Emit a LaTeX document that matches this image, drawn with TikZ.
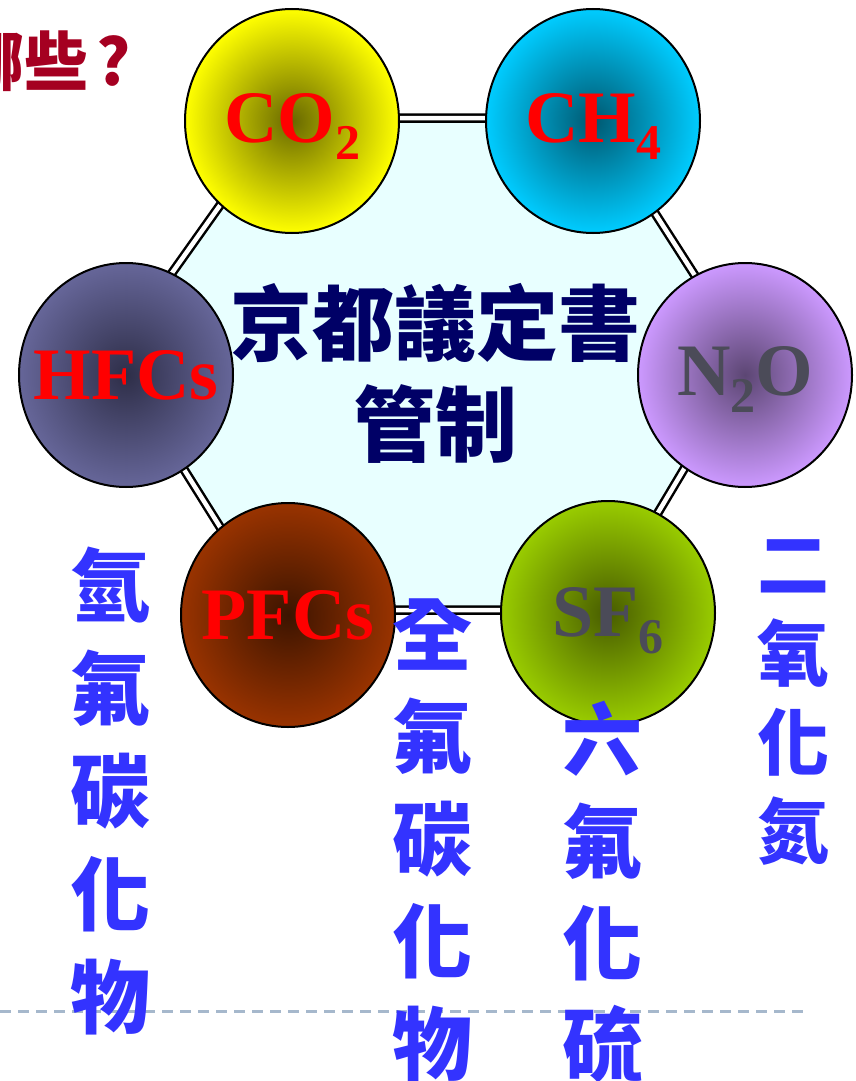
\documentclass[tikz,border=0pt]{standalone}
\usepackage{fontspec}
\setmainfont{Liberation Serif}
\newfontfamily\cjk{Noto Sans CJK TC}
\usetikzlibrary{shapes.geometric}
\definecolor{hexfill}{HTML}{E8FFFF}
\definecolor{navytxt}{HTML}{000066}
\definecolor{bluetxt}{HTML}{3333FF}
\definecolor{titlered}{HTML}{A50021}
\definecolor{dashcol}{HTML}{A6B8CC}
\definecolor{graytxt}{HTML}{4B4B58}
\newcommand\molsub[1]{\raisebox{-17pt}{\fontsize{50}{50}\selectfont #1}}
\tikzset{
  ball/.style={ellipse, draw=black, line width=2pt, minimum width=214pt, minimum height=224pt,
    inner sep=0pt},
  balltext/.style={inner sep=0pt, font=\fontsize{74}{80}\selectfont\bfseries},
  redlabel/.style={balltext, text=red},
  graylabel/.style={balltext, text=graytxt},
  vcol/.style={text=bluetxt, align=center, inner sep=0pt},
  hexline/.style={fill=hexfill, draw=black, line width=2.5pt, double=white, double distance=4.5pt, line join=miter},
}
\begin{document}
\begin{tikzpicture}[x=1pt,y=-1pt]
\useasboundingbox (0,0) rectangle (856,1081);
% dashed rule
\coordinate (dl) at (0,1011);
\coordinate (dr) at (808,1011);
\draw[dashcol, line width=3pt, dash pattern=on 11pt off 7pt] (dl) -- (dr);
% hexagon
\coordinate (h1) at (282,118);
\coordinate (h2) at (594,118);
\coordinate (h3) at (749,360);
\coordinate (h4) at (600,610);
\coordinate (h5) at (272,610);
\coordinate (h6) at (113,356);
\path[hexline] (h1) -- (h2) -- (h3) -- (h4) -- (h5) -- (h6) -- cycle;
% balls
\node[ball, inner color={rgb,255:red,104;green,104;blue,0}, outer color={rgb,255:red,255;green,255;blue,0}] (co2) at (292,121) {};
\node[ball, inner color={rgb,255:red,0;green,88;blue,112}, outer color={rgb,255:red,0;green,204;blue,255}] (ch4) at (593,121) {};
\node[ball, inner color={rgb,255:red,46;green,46;blue,72}, outer color={rgb,255:red,102;green,102;blue,153}] (hfc) at (126,375) {};
\node[ball, inner color={rgb,255:red,92;green,70;blue,115}, outer color={rgb,255:red,204;green,153;blue,255}] (n2o) at (745,375) {};
\node[ball, inner color={rgb,255:red,60;green,20;blue,0}, outer color={rgb,255:red,153;green,51;blue,0}] (pfc) at (288,615) {};
\node[ball, inner color={rgb,255:red,72;green,92;blue,0}, outer color={rgb,255:red,153;green,204;blue,0}] (sf6) at (608,613) {};
% ball labels
\node[redlabel] (tco2) at ([yshift=-6pt]co2.center) {CO\molsub{2}};
\node[redlabel] (tch4) at ([yshift=-6pt]ch4.center) {CH\molsub{4}};
\node[redlabel] (thfc) at (hfc.center) {HFCs};
\node[graylabel] (tn2o) at ([yshift=-4pt]n2o.center) {N\molsub{2}O};
\node[redlabel] (tpfc) at (pfc.center) {PFCs};
\node[graylabel] (tsf6) at ([yshift=-8pt]sf6.center) {SF\molsub{6}};
% centre text
\node[text=navytxt, align=center, inner sep=0pt, font=\cjk\bfseries\fontsize{82}{101}\selectfont] (kyoto) at (435,373) {京都議定書\\管制};
% title fragment
\node[anchor=east, text=titlered, inner sep=0pt, font=\cjk\bfseries\fontsize{64}{64}\selectfont] (title) at (131,61) {哪些\hspace{8pt}?};
% vertical labels
\node[vcol, font=\cjk\bfseries\fontsize{80}{103}\selectfont] (lhfc) at (110,791) {氫\\氟\\碳\\化\\物};
\node[vcol, font=\cjk\bfseries\fontsize{80}{102.5}\selectfont] (lpfc) at (432,840) {全\\氟\\碳\\化\\物};
\node[vcol, font=\cjk\bfseries\fontsize{80}{101.7}\selectfont] (lsf6) at (602,892) {六\\氟\\化\\硫};
\node[vcol, font=\cjk\bfseries\fontsize{72}{89}\selectfont] (ln2o) at (793,703) {二\\氧\\化\\氮};
\end{tikzpicture}
\end{document}
